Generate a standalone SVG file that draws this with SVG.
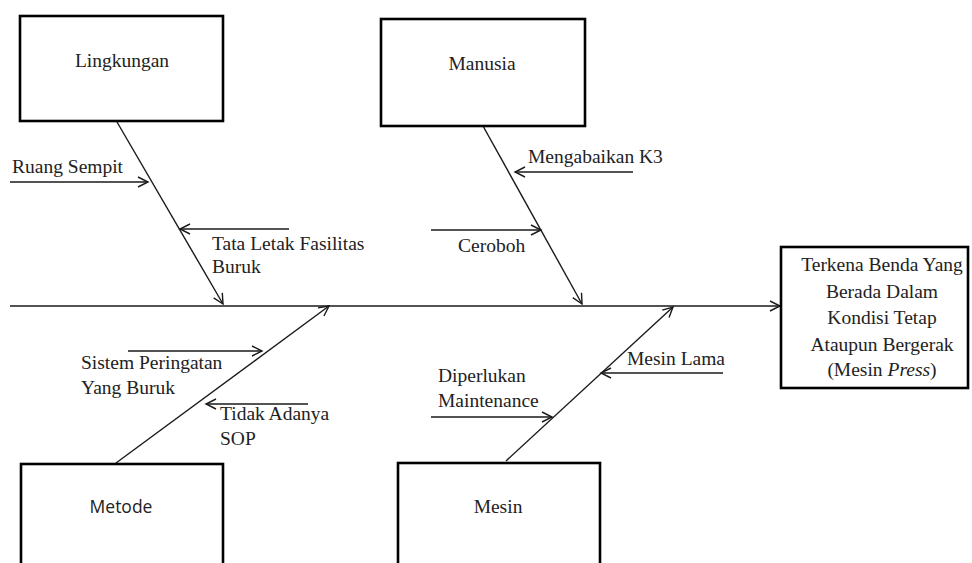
<svg xmlns="http://www.w3.org/2000/svg" width="972" height="563" viewBox="0 0 972 563">
<style>
.box{fill:#fff;stroke:#000;stroke-width:2.6}
.ln{stroke:#1a1a1a;stroke-width:1.4;fill:none}
.t{font-family:"Liberation Serif","Times New Roman",serif;font-size:19.5px;fill:#222}
.m{text-anchor:middle}
.s{font-family:"Open Sans","Liberation Sans",sans-serif;font-size:17.5px;fill:#222}
</style>
<defs>
<marker id="ah" markerWidth="14" markerHeight="14" refX="11" refY="6" orient="auto" markerUnits="userSpaceOnUse">
<path d="M1,1 L11,6 L1,11" fill="none" stroke="#1a1a1a" stroke-width="1.4"/>
</marker>
</defs>
<rect width="972" height="563" fill="#fff"/>
<g id="connectors">
<line class="ln" x1="10" y1="306" x2="780" y2="306" marker-end="url(#ah)"/>
<line class="ln" x1="117" y1="122" x2="223" y2="304" marker-end="url(#ah)"/>
<line class="ln" x1="483" y1="126" x2="582" y2="304" marker-end="url(#ah)"/>
<line class="ln" x1="116" y1="463" x2="329" y2="306" marker-end="url(#ah)"/>
<line class="ln" x1="506" y1="461" x2="673" y2="307" marker-end="url(#ah)"/>
<line class="ln" x1="10" y1="182" x2="148" y2="182" marker-end="url(#ah)"/>
<line class="ln" x1="289" y1="229" x2="180" y2="229" marker-end="url(#ah)"/>
<line class="ln" x1="633" y1="172" x2="515" y2="172" marker-end="url(#ah)"/>
<line class="ln" x1="431" y1="230" x2="541" y2="230" marker-end="url(#ah)"/>
<line class="ln" x1="128" y1="351" x2="262" y2="351" marker-end="url(#ah)"/>
<line class="ln" x1="308" y1="404" x2="206" y2="404" marker-end="url(#ah)"/>
<line class="ln" x1="723" y1="373" x2="601" y2="373" marker-end="url(#ah)"/>
<line class="ln" x1="431" y1="417" x2="552" y2="417" marker-end="url(#ah)"/>
</g>
<g id="lingkungan">
<rect class="box" x="20" y="16" width="203" height="105"/>
<text class="t m" x="122" y="67">Lingkungan</text>
</g>
<g id="manusia">
<rect class="box" x="381" y="19" width="204" height="107"/>
<text class="t m" x="482" y="70">Manusia</text>
</g>
<g id="metode">
<rect class="box" x="21" y="464" width="202" height="110"/>
<text class="s m" x="121" y="513">Metode</text>
</g>
<g id="mesin">
<rect class="box" x="398" y="463" width="202" height="110"/>
<text class="t m" x="498" y="513">Mesin</text>
</g>
<g id="effect">
<rect class="box" x="781" y="247" width="187" height="141"/>
<text class="t m" x="882" y="271">Terkena Benda Yang</text>
<text class="t m" x="882" y="298">Berada Dalam</text>
<text class="t m" x="882" y="324">Kondisi Tetap</text>
<text class="t m" x="882" y="351">Ataupun Bergerak</text>
<text class="t m" x="882" y="376">(Mesin <tspan font-style="italic">Press</tspan>)</text>
</g>
<g id="labels">
<text class="t" x="12" y="173">Ruang Sempit</text>
<text class="t" x="212" y="250">Tata Letak  Fasilitas</text>
<text class="t" x="212" y="273">Buruk</text>
<text class="t" x="528" y="163">Mengabaikan K3</text>
<text class="t" x="458" y="252">Ceroboh</text>
<text class="t" x="81" y="369">Sistem Peringatan</text>
<text class="t" x="81" y="394">Yang Buruk</text>
<text class="t" x="220" y="420">Tidak Adanya</text>
<text class="t" x="220" y="445">SOP</text>
<text class="t" x="627" y="365">Mesin Lama</text>
<text class="t" x="438" y="382">Diperlukan</text>
<text class="t" x="438" y="407">Maintenance</text>
</g>
</svg>
